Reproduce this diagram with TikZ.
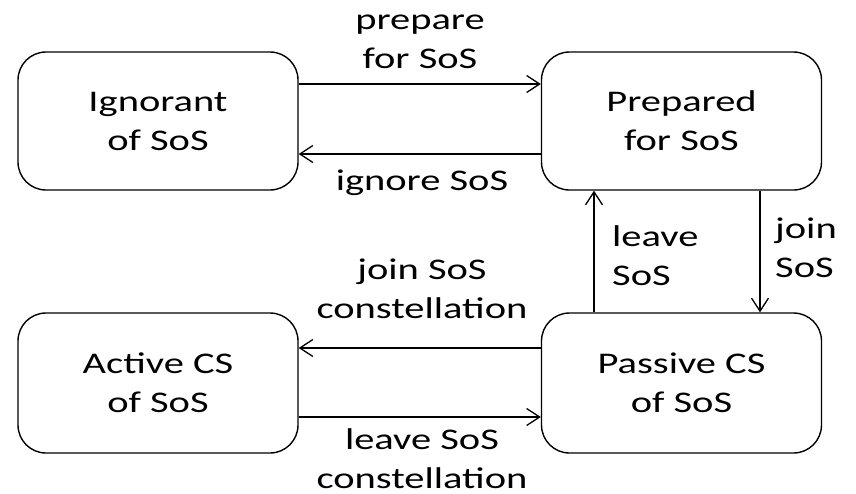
\documentclass[tikz,border=0pt]{standalone}
\usepackage{fontspec}
\setmainfont{Carlito}[FakeStretch=1.35]
\usetikzlibrary{arrows.meta}
\begin{document}
\begin{tikzpicture}[x=1pt,y=-1pt,
  every node/.style={font=\fontsize{30}{39}\selectfont},
  state/.style={draw,line width=1.4pt,rounded corners=28pt,minimum width=280pt,minimum height=138pt,inner sep=0pt,align=center},
  trans/.style={line width=1.3pt,-{Straight Barb[length=13pt,width=17pt,line width=1.3pt]}},
  lbl/.style={inner sep=0pt,anchor=base,align=center},
  lbll/.style={inner sep=0pt,anchor=base west,align=left}]
\useasboundingbox (0,0) rectangle (856,493);
\node[state] (A) at (158,121) {Ignorant\\of SoS};
\node[state] (B) at (681.5,121) {Prepared\\for SoS};
\node[state,minimum height=140pt] (C) at (158,383) {Active CS\\of SoS};
\node[state,minimum height=140pt] (D) at (681.5,383) {Passive CS\\of SoS};
\draw[trans] ([yshift=37pt]A.east) -- ([yshift=37pt]B.west);
\draw[trans] ([yshift=-33pt]B.west) -- ([yshift=-33pt]A.east);
\draw[trans] ([yshift=35pt]D.west) -- ([yshift=35pt]C.east);
\draw[trans] ([yshift=-34pt]C.east) -- ([yshift=-34pt]D.west);
\draw[trans] ([xshift=-87.5pt]D.north) -- ([xshift=-87.5pt]B.south);
\draw[trans] ([xshift=78.5pt]B.south) -- ([xshift=78.5pt]D.north);
\node[lbl] (l1) at (420,68) {prepare\\for SoS};
\node[lbl] (l2) at (422,190) {ignore SoS};
\node[lbll] (l3) at (612,285) {leave\\SoS};
\node[lbll] (l4) at (775,277) {join\\SoS};
\node[lbl] (l5) at (422,318) {join SoS\\constellation};
\node[lbl] (l6) at (422,488) {leave SoS\\constellation};
\end{tikzpicture}
\end{document}
